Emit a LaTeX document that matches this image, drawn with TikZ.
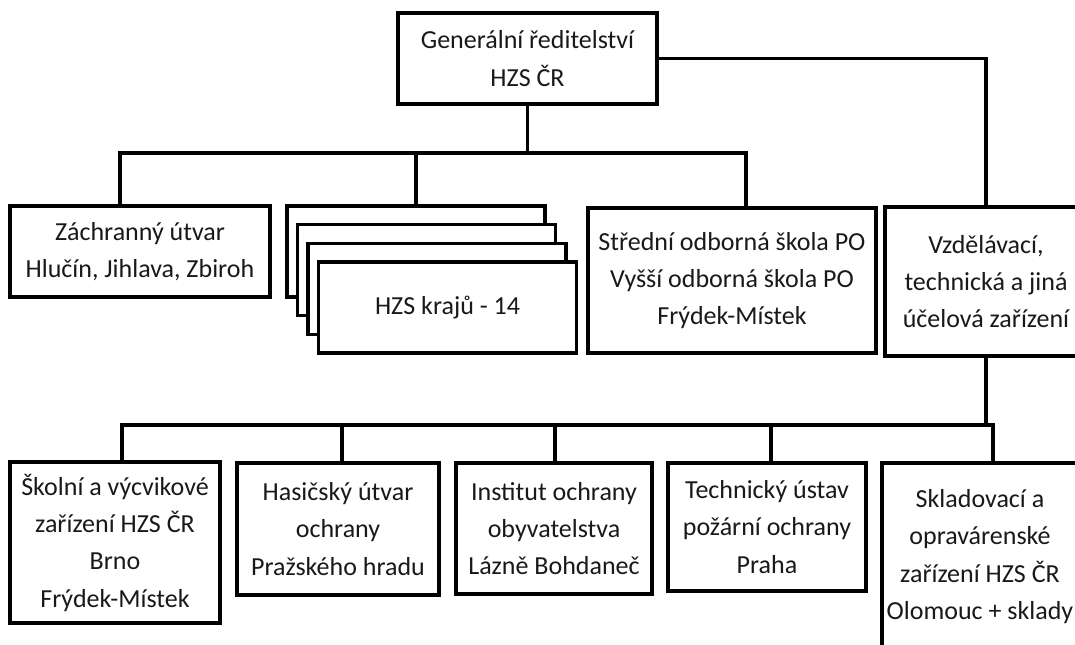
\documentclass[tikz,border=0pt]{standalone}
\usepackage{fontspec}
\setmainfont{Carlito}

\tikzset{
	orgbox/.style 2 args={draw, line width=2.5pt, fill=white, align=center, inner sep=0pt,
		text=black!90, font=\fontsize{19.5}{28}\selectfont,
		minimum width=#1*0.75pt, minimum height=#2*0.75pt},
	conn/.style={line width=2.5pt}
}

\begin{document}
\begin{tikzpicture}[x=0.75pt, y=-0.75pt]
			%%%%% START %%%%%
			\clip (0, 0) rectangle (1075, 644);
			
			\node[orgbox={259}{91}] (gen) at (527.5, 58.5) {Generální ředitelství\\HZS ČR};
			
			\node[orgbox={260}{91}] (zach) at (140, 251.5) {Záchranný útvar\\Hlučín, Jihlava, Zbiroh};
			\foreach \i in {0,...,2}
				\node[orgbox={258}{91}] (kraj\i) at ({416+10.5*\i}, {251.5+18.7*\i}) {};
			\node[orgbox={258}{91}] (kraj3) at (447.5, 307.6) {HZS krajů - 14};
			\node[orgbox={288}{145}] (sos) at (732, 280.5) {Střední odborná škola PO\\Vyšší odborná škola PO\\Frýdek-Místek};
			\node[orgbox={202}{149}] (vzd) at (986, 281.5) {Vzdělávací,\\technická a jiná\\účelová zařízení};
			
			\node[orgbox={210}{161}] (skol) at (115, 542.5) {Školní a výcvikové\\zařízení HZS ČR\\Brno\\Frýdek-Místek};
			\node[orgbox={202}{132}] (has) at (338, 529) {Hasičský útvar\\ochrany\\Pražského hradu};
			\node[orgbox={196}{131}] (inst) at (554, 528.5) {Institut ochrany\\obyvatelstva\\Lázně Bohdaneč};
			\node[orgbox={198}{128}] (tech) at (767, 527) {Technický ústav\\požární ochrany\\Praha};
			\node[orgbox={196}{187}] (sklad) at (980, 556.5) {Skladovací a\\opravárenské\\zařízení HZS ČR\\Olomouc + sklady};
			
			% upper level
			\coordinate (tb1) at (120, 153);
			\coordinate (tb3) at (746, 153);
			\draw[conn] (gen.south) -- (gen.south |- tb1);
			\draw[conn] (tb1 |- zach.north) -- (tb1) -- (tb3) -- (tb3 |- sos.north);
			\draw[conn] (kraj0.north) -- (kraj0.north |- tb1);
			\draw[conn] (gen.east) -| (vzd.north);
			
			% lower level
			\coordinate (bb1) at (122, 425);
			\coordinate (bb5) at (993, 425);
			\draw[conn] (vzd.south) -- (vzd.south |- bb1);
			\draw[conn] (bb1 |- skol.north) -- (bb1) -- (bb5) -- (bb5 |- sklad.north);
			\foreach \n/\x in {has/342, inst/555, tech/771}
				\draw[conn] (\x, 425) -- (\n.north -| \x, 425);
			%%%%% END %%%%%
\end{tikzpicture}
\end{document}
